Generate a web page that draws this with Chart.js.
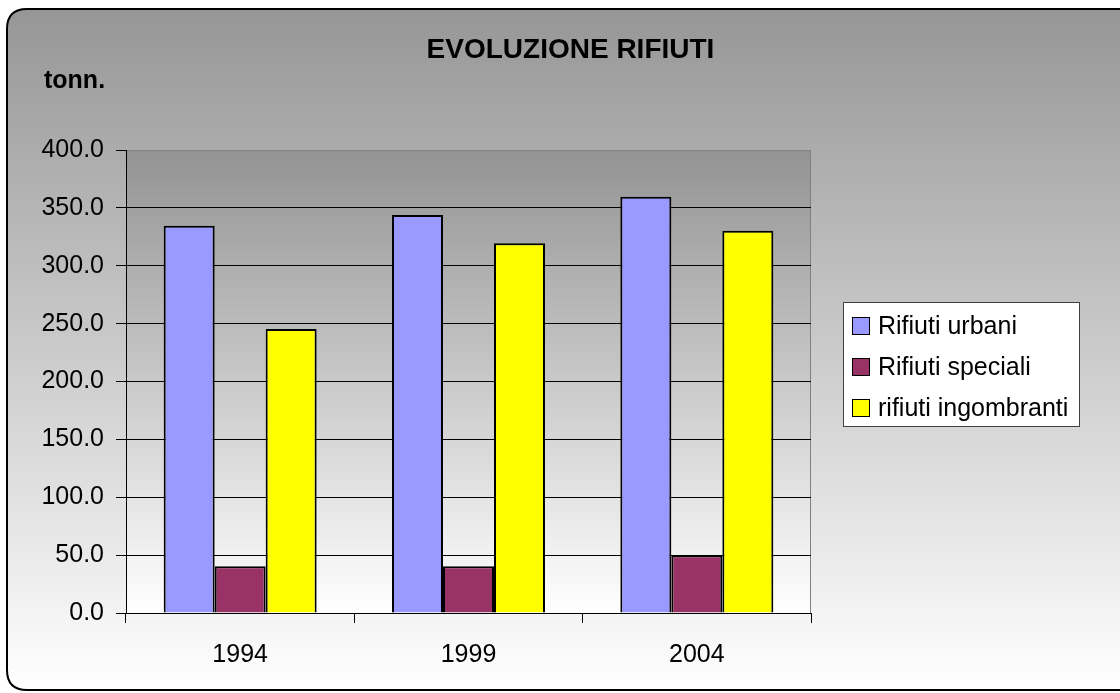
<!DOCTYPE html>
<html><head><meta charset="utf-8">
<script src="https://cdn.jsdelivr.net/npm/chart.js@4/dist/chart.umd.min.js"></script>
<style>html,body{margin:0;padding:0;background:#fff;overflow:hidden}#wrap{width:1120px;height:693px;}</style>
</head><body><div id="wrap"><canvas id="c" width="1120" height="693"></canvas></div>
<script>
const categories = ['1994', '1999', '2004'];
const seriesNames = ['Rifiuti urbani', 'Rifiuti speciali', 'rifiuti ingombranti'];
const urbani = [334.6, 343.8, 359.7];
const speciali = [40.3, 40.3, 49.8];
const ingombranti = [245.4, 319.4, 330.2];
const yMin = 0, yMax = 400, yStep = 50;
const chartTitle = 'EVOLUZIONE RIFIUTI';
const yUnit = 'tonn.';
const colors = ['#9999ff', '#993366', '#ffff00'];

const FONT = "'Liberation Sans', Arial, sans-serif";

function roundRect(ctx, x, y, w, h, r) {
  ctx.beginPath();
  ctx.moveTo(x + r, y);
  ctx.lineTo(x + w - r, y);
  ctx.quadraticCurveTo(x + w, y, x + w, y + r);
  ctx.lineTo(x + w, y + h - r);
  ctx.quadraticCurveTo(x + w, y + h, x + w - r, y + h);
  ctx.lineTo(x + r, y + h);
  ctx.quadraticCurveTo(x, y + h, x, y + h - r);
  ctx.lineTo(x, y + r);
  ctx.quadraticCurveTo(x, y, x + r, y);
  ctx.closePath();
}

const decor = {
  id: 'decor',
  beforeDraw(chart) {
    const ctx = chart.ctx, a = chart.chartArea;
    ctx.save();
    ctx.fillStyle = '#ffffff';
    ctx.fillRect(0, 0, chart.width, chart.height);
    const g = ctx.createLinearGradient(0, 9, 0, 690);
    g.addColorStop(0, '#969696');
    g.addColorStop(1, '#ffffff');
    roundRect(ctx, 7, 9, 1140, 681, 20);
    ctx.fillStyle = g;
    ctx.fill();
    ctx.lineWidth = 2;
    ctx.strokeStyle = '#000';
    ctx.stroke();
    const pg = ctx.createLinearGradient(0, a.top, 0, a.bottom);
    pg.addColorStop(0, '#939393');
    pg.addColorStop(1, '#ffffff');
    ctx.fillStyle = pg;
    ctx.fillRect(a.left, a.top, a.right - a.left, a.bottom - a.top);
    ctx.lineWidth = 1;
    ctx.strokeStyle = '#808080';
    ctx.strokeRect(a.left + 0.5, a.top + 0.5, a.right - a.left - 1, a.bottom - a.top);
    ctx.fillStyle = '#000';
    ctx.font = "bold 28px " + FONT;
    ctx.textAlign = 'center';
    ctx.textBaseline = 'alphabetic';
    ctx.fillText(chartTitle, 570.5, 58);
    ctx.font = "bold 25px " + FONT;
    ctx.textAlign = 'left';
    ctx.fillText(yUnit, 44, 88);
    ctx.restore();
  },
  afterDraw(chart) {
    const ctx = chart.ctx;
    ctx.save();
    const bx = 843, by = 302, bw = 236, bh = 124;
    ctx.fillStyle = '#ffffff';
    ctx.fillRect(bx, by, bw, bh);
    ctx.strokeStyle = '#404040';
    ctx.lineWidth = 1;
    ctx.strokeRect(bx + 0.5, by + 0.5, bw, bh);
    chart.data.datasets.forEach((ds, i) => {
      const cy = by + 23 + i * 41;
      ctx.fillStyle = ds.backgroundColor;
      ctx.fillRect(852, cy - 8, 17, 17);
      ctx.strokeStyle = '#000';
      ctx.strokeRect(852.5, cy - 7.5, 17, 17);
      ctx.fillStyle = '#000';
      ctx.font = "25px " + FONT;
      ctx.textAlign = 'left';
      ctx.textBaseline = 'alphabetic';
      ctx.fillText(ds.label, 878, cy + 9);
    });
    ctx.restore();
  }
};

const seriesData = [urbani, speciali, ingombranti];

new Chart(document.getElementById('c'), {
  type: 'bar',
  data: {
    labels: categories,
    datasets: seriesNames.map((n, i) => ({
      label: n,
      data: seriesData[i],
      backgroundColor: colors[i],
      borderColor: '#000',
      borderWidth: 2,
      categoryPercentage: 0.67,
      barPercentage: 1.0
    }))
  },
  options: {
    responsive: false,
    animation: false,
    layout: { padding: { left: 0, top: 150, right: 309, bottom: 0 } },
    plugins: { legend: { display: false }, title: { display: false }, tooltip: { enabled: false } },
    scales: {
      y: {
        min: yMin, max: yMax,
        ticks: {
          stepSize: yStep, color: '#000', padding: 12,
          font: { size: 25, family: FONT },
          callback: v => Number(v).toFixed(1)
        },
        grid: {
          color: c => (c.tick && c.tick.value === yMax) ? 'rgba(0,0,0,0)' : '#000',
          tickColor: '#000', tickLength: 10, lineWidth: 1
        },
        border: { color: '#000', width: 1 },
        afterFit: s => { s.width = 126; }
      },
      x: {
        ticks: { color: '#000', padding: 17, font: { size: 25, family: FONT } },
        grid: { offset: true, drawOnChartArea: false, tickColor: '#000', tickLength: 10 },
        border: { color: '#000', width: 1 },
        afterFit: s => { s.height = 80; }
      }
    }
  },
  plugins: [decor]
});
</script>
</body></html>
